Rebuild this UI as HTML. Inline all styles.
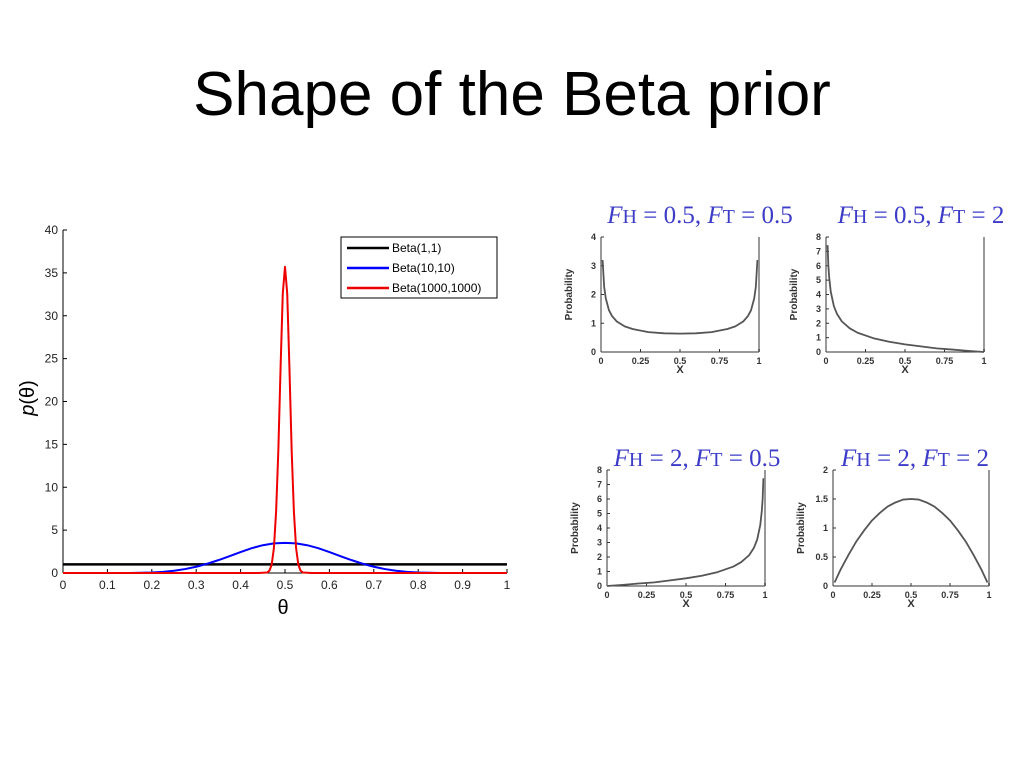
<!DOCTYPE html>
<html><head><meta charset="utf-8"><style>
body{margin:0;background:#fff;width:1024px;height:768px;overflow:hidden;font-family:"Liberation Sans",sans-serif}
</style></head><body>
<svg id="s" width="1024" height="768" xmlns="http://www.w3.org/2000/svg">
<text x="512" y="115" text-anchor="middle" font-size="62" font-family="Liberation Sans">Shape of the Beta prior</text>
</svg>
<script>
// ---- main chart data ----
const mainXTicks = ["0","0.1","0.2","0.3","0.4","0.5","0.6","0.7","0.8","0.9","1"];
const mainYTicks = [0,5,10,15,20,25,30,35,40];
const b11X = [0, 1];
const b11Y = [1, 1];
const b1010X = [0,0.15,0.2,0.225,0.25,0.275,0.3,0.325,0.35,0.375,0.4,0.425,0.45,0.475,0.5,0.525,0.55,0.575,0.6,0.625,0.65,0.675,0.7,0.725,0.75,0.775,0.8,0.85,1];
const b1010Y = [0,0.003,0.06,0.13,0.26,0.46,0.73,1.08,1.5,1.96,2.44,2.89,3.24,3.45,3.52,3.45,3.24,2.89,2.44,1.96,1.5,1.08,0.73,0.46,0.26,0.13,0.06,0.003,0];
const b1000X = [0,0.44,0.46,0.465,0.47,0.475,0.48,0.485,0.49,0.495,0.5,0.505,0.51,0.515,0.52,0.525,0.53,0.535,0.54,0.56,1];
const b1000Y = [0,0,0.06,0.28,0.98,2.9,7.2,14.3,23.9,32.6,35.7,32.6,23.9,14.3,7.2,2.9,0.98,0.28,0.06,0,0];
// ---- small charts data ----
const smX1 = [0.01,0.02,0.03,0.05,0.07,0.1,0.15,0.2,0.3,0.4,0.5,0.6,0.7,0.8,0.85,0.9,0.93,0.95,0.97,0.98,0.99];
const smY1 = [3.2,2.27,1.87,1.46,1.25,1.06,0.89,0.8,0.69,0.65,0.64,0.65,0.69,0.8,0.89,1.06,1.25,1.46,1.87,2.27,3.2];
const smX2 = [0.01,0.015,0.02,0.03,0.05,0.07,0.1,0.15,0.2,0.3,0.4,0.5,0.6,0.7,0.8,0.9,1];
const smY2 = [7.43,6.0,5.2,4.2,3.18,2.64,2.13,1.65,1.34,0.96,0.71,0.53,0.39,0.25,0.17,0.08,0];
const smX3 = [0,0.1,0.2,0.3,0.4,0.5,0.6,0.7,0.8,0.85,0.9,0.93,0.95,0.97,0.98,0.985,0.99];
const smY3 = [0,0.08,0.17,0.25,0.39,0.53,0.71,0.96,1.34,1.65,2.13,2.64,3.18,4.2,5.2,6.0,7.43];
const smX4 = [0.01,0.05,0.1,0.15,0.2,0.25,0.3,0.35,0.4,0.45,0.5,0.55,0.6,0.65,0.7,0.75,0.8,0.85,0.9,0.95,0.99];
const smY4 = [0.06,0.29,0.54,0.77,0.96,1.13,1.26,1.37,1.44,1.49,1.5,1.49,1.44,1.37,1.26,1.13,0.96,0.77,0.54,0.29,0.06];

const NS="http://www.w3.org/2000/svg";
const svg=document.getElementById('s');
function mk(tag,attrs,parent){const e=document.createElementNS(NS,tag);for(const k in attrs)e.setAttribute(k,attrs[k]);(parent||svg).appendChild(e);return e;}

const X0=63,X1=507,Y0=573,Y1=230;
const mx=v=>X0+(X1-X0)*v, my=v=>Y0-(Y0-Y1)*v/40;
const g=mk('g',{});


let a=mk('line',{x1:X0,y1:Y0,x2:X1,y2:Y0,stroke:'#000','stroke-width':1},g);

a=mk('line',{x1:X0,y1:Y0,x2:X0,y2:Y1,stroke:'#000','stroke-width':1},g);

mainXTicks.forEach((t,i)=>{const x=mx(i/10);
 mk('line',{x1:x,y1:Y0,x2:x,y2:Y0-4,stroke:'#000'},g);
 const tx=mk('text',{x:x,y:Y0+16,'text-anchor':'middle','font-size':12,fill:'#222'},g);tx.textContent=t;
 });
mainYTicks.forEach(t=>{const y=my(t);
 mk('line',{x1:X0,y1:y,x2:X0+4,y2:y,stroke:'#000'},g);
 const tx=mk('text',{x:X0-5,y:y+4,'text-anchor':'end','font-size':12,fill:'#222'},g);tx.textContent=t;
 });
let t=mk('text',{x:283,y:614,'text-anchor':'middle','font-size':20},g);t.textContent='θ';

t=mk('text',{x:0,y:0,'text-anchor':'middle','font-size':20,transform:'translate(34,398) rotate(-90)'},g);
t.innerHTML='<tspan font-style="italic">p</tspan>(θ)';

function series(xs,ys,color,name,fx,fy,w,parent){const p=mk('polyline',{points:xs.map((x,i)=>fx(x)+','+fy(ys[i])).join(' '),fill:'none',stroke:color,'stroke-width':w,'stroke-linejoin':'round'},parent);
 }
series(b11X,b11Y,'#000','series-beta-1-1',mx,my,2.5,g);
series(b1010X,b1010Y,'#00f','series-beta-10-10',mx,my,2,g);
series(b1000X,b1000Y,'#e00','series-beta-1000-1000',mx,my,2,g);
const lg=mk('g',{},g);
mk('rect',{x:341,y:237,width:156,height:61,fill:'#fff',stroke:'#000'},lg);
[['Beta(1,1)','#000'],['Beta(10,10)','#00f'],['Beta(1000,1000)','#e00']].forEach((e,i)=>{
 const y=248+i*20;const ent=mk('g',{},lg);
 
 mk('line',{x1:347,y1:y,x2:389,y2:y,stroke:e[1],'stroke-width':2.5},ent);
 const tt=mk('text',{x:392,y:y+4,'font-size':12},ent);tt.textContent=e[0];});

function small(cfg){
 const gg=mk('g',{});
 const fx=v=>cfg.x0+(cfg.x1-cfg.x0)*v, fy=v=>cfg.y0-(cfg.y0-cfg.y1)*v/cfg.ymax;
 const ti=mk('text',{x:cfg.tx,y:cfg.ty,'text-anchor':'middle','font-size':25,fill:'#3c3cc8','font-family':'Liberation Serif'},gg);
 ti.innerHTML='<tspan font-style="italic">F</tspan><tspan font-size="20">H</tspan> = '+cfg.a+', <tspan font-style="italic">F</tspan><tspan font-size="20">T</tspan> = '+cfg.b;
 
 mk('line',{x1:cfg.x0,y1:cfg.y0,x2:cfg.x1,y2:cfg.y0,stroke:'#333'},gg);
 mk('line',{x1:cfg.x0,y1:cfg.y0,x2:cfg.x0,y2:cfg.y1,stroke:'#333'},gg);
 mk('line',{x1:cfg.x1,y1:cfg.y0,x2:cfg.x1,y2:cfg.y1,stroke:'#999','stroke-width':2},gg);
 ['0','0.25','0.5','0.75','1'].forEach((l,i)=>{const x=fx(i/4);
  mk('line',{x1:x,y1:cfg.y0,x2:x,y2:cfg.y0-3,stroke:'#333'},gg);
  const tt=mk('text',{x:x,y:cfg.y0+12,'text-anchor':'middle','font-size':9,'font-weight':'bold',fill:'#333'},gg);tt.textContent=l;});
 const xl=mk('text',{x:fx(0.5),y:cfg.y0+21,'text-anchor':'middle','font-size':11,'font-weight':'bold',fill:'#333'},gg);xl.textContent='X';
 cfg.yt.forEach(v=>{const y=fy(v);
  mk('line',{x1:cfg.x0,y1:y,x2:cfg.x0+3,y2:y,stroke:'#333'},gg);
  const tt=mk('text',{x:cfg.x0-5,y:y+3,'text-anchor':'end','font-size':9,'font-weight':'bold',fill:'#333'},gg);tt.textContent=v;});
 const yl=mk('text',{x:0,y:0,'text-anchor':'middle','font-size':10,'font-weight':'bold',fill:'#333',transform:'translate('+(cfg.x0-29)+','+((cfg.y0+cfg.y1)/2)+') rotate(-90)'},gg);yl.textContent='Probability';
 series(cfg.xs,cfg.ys,'#555','density-curve',fx,fy,1.8,gg);
}
small({name:'subplot-0.5-0.5',x0:601,x1:759,y0:352,y1:237,ymax:4,yt:[0,1,2,3,4],xs:smX1,ys:smY1,tx:700,ty:223,a:'0.5',b:'0.5'});
small({name:'subplot-0.5-2',x0:826,x1:984,y0:352,y1:237,ymax:8,yt:[0,1,2,3,4,5,6,7,8],xs:smX2,ys:smY2,tx:921,ty:223,a:'0.5',b:'2'});
small({name:'subplot-2-0.5',x0:607,x1:765,y0:586,y1:470,ymax:8,yt:[0,1,2,3,4,5,6,7,8],xs:smX3,ys:smY3,tx:697,ty:466,a:'2',b:'0.5'});
small({name:'subplot-2-2',x0:833,x1:989,y0:586,y1:470,ymax:2,yt:[0,0.5,1,1.5,2],xs:smX4,ys:smY4,tx:915,ty:466,a:'2',b:'2'});
</script>
</body></html>
